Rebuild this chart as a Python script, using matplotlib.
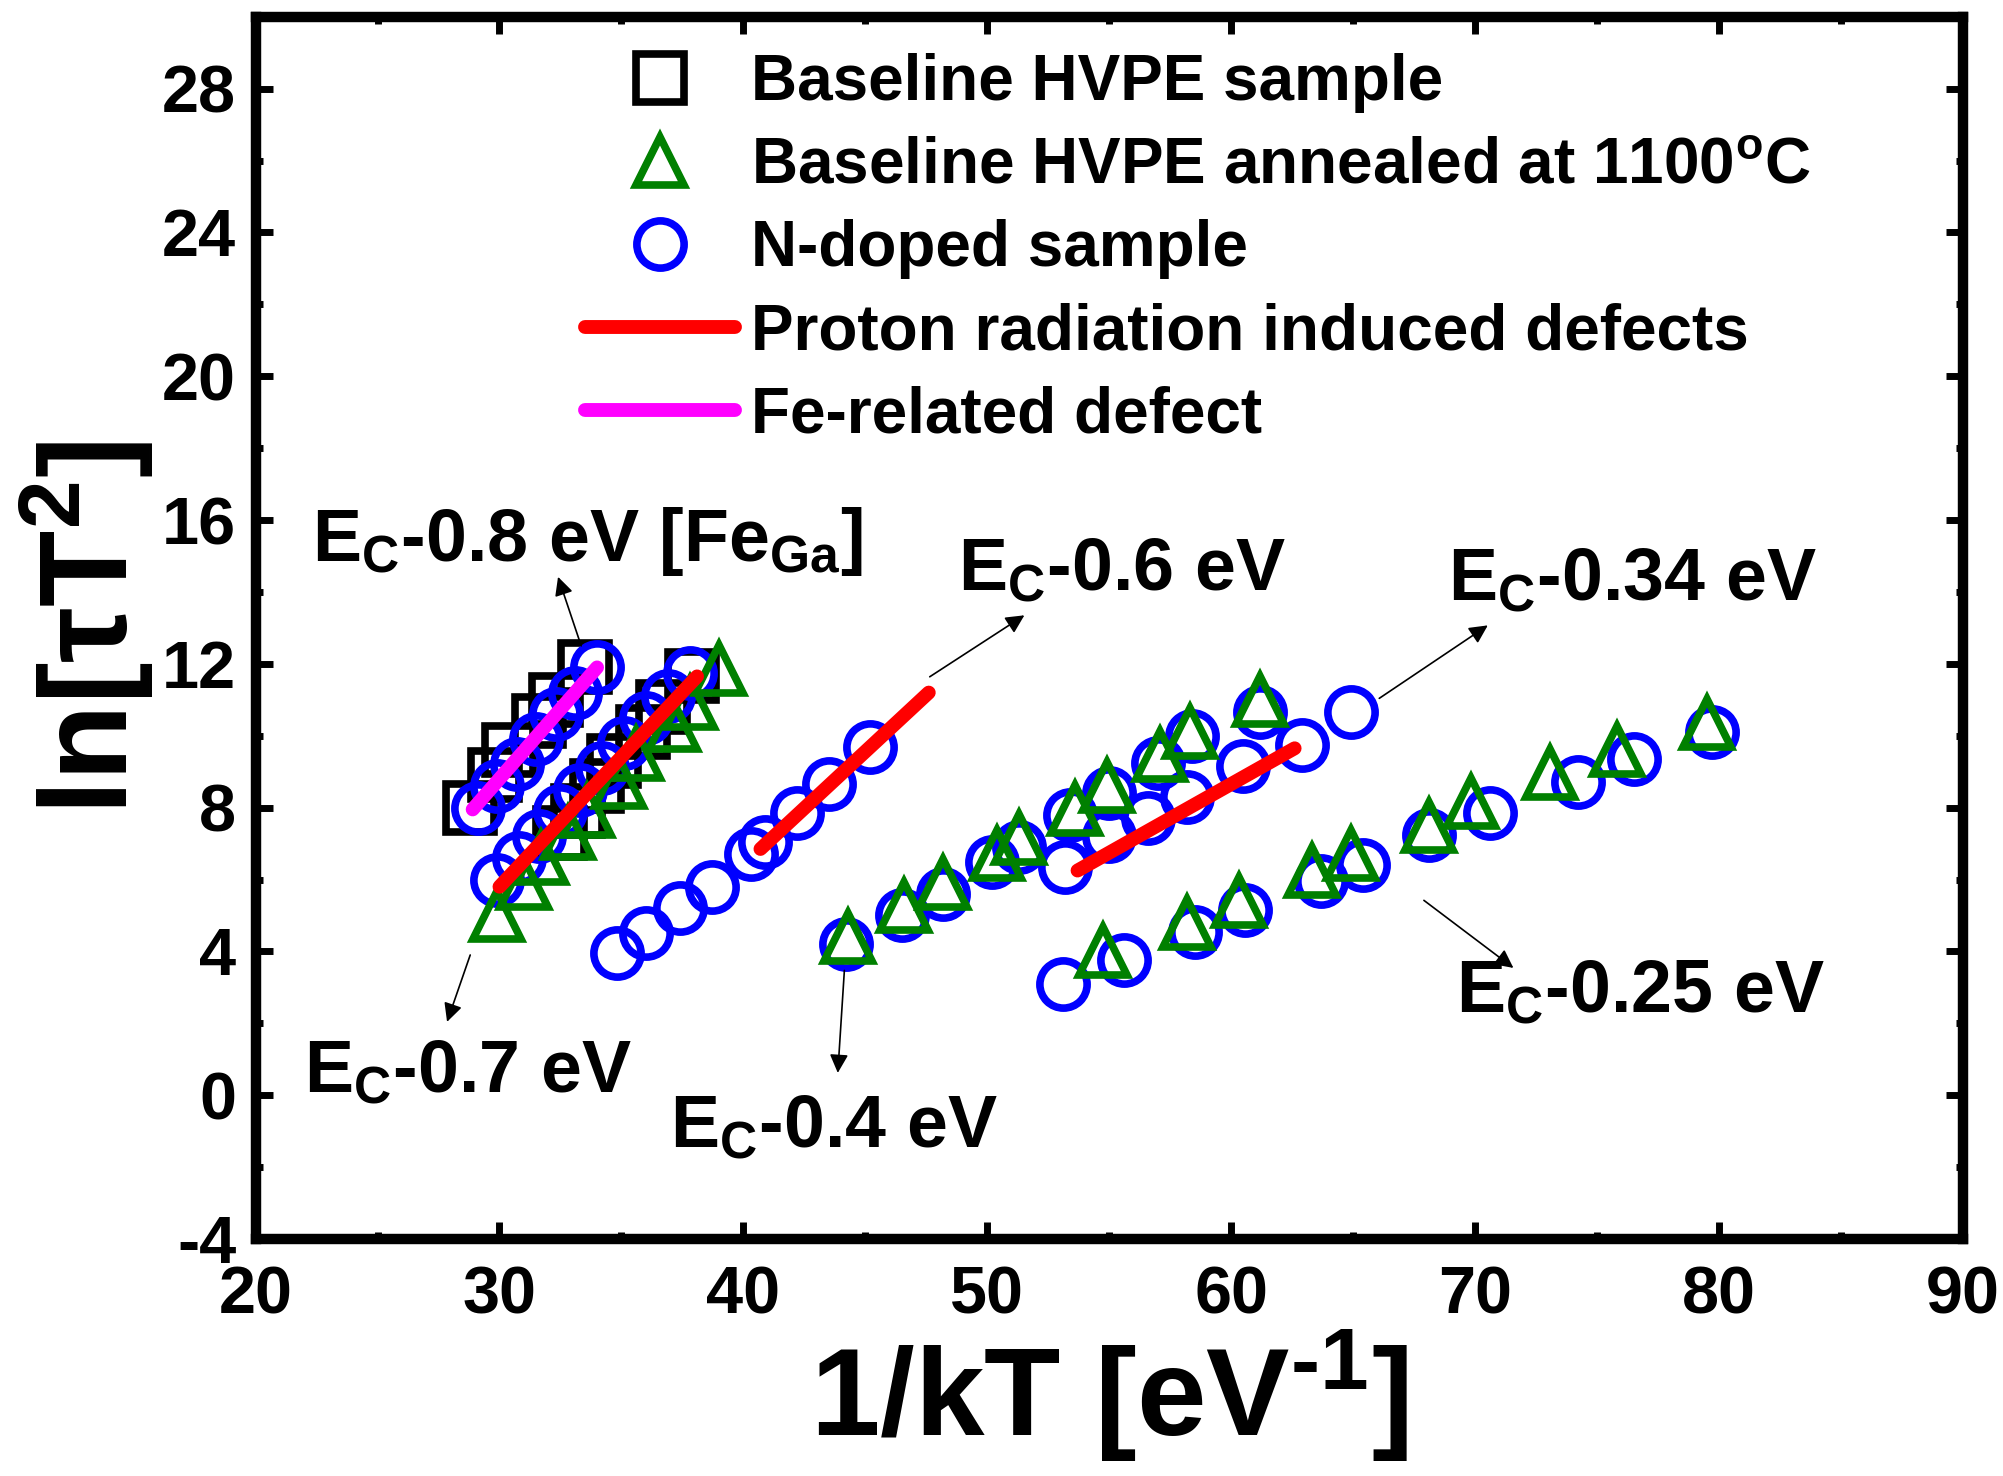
import matplotlib
matplotlib.use('Agg')
import matplotlib.pyplot as plt
import numpy as np

plt.rcParams['font.family'] = ['Liberation Sans', 'DejaVu Sans']
plt.rcParams['font.weight'] = 'bold'
plt.rcParams['axes.unicode_minus'] = False
plt.rcParams['mathtext.fontset'] = 'custom'
plt.rcParams['mathtext.rm'] = 'Liberation Sans:bold'
plt.rcParams['mathtext.it'] = 'Liberation Sans:bold'
plt.rcParams['mathtext.bf'] = 'Liberation Sans:bold'

# Baseline HVPE sample (squares)
sq_x1 = [28.8, 29.8, 30.4, 31.6, 32.3, 33.5]
sq_y1 = [8.0, 8.9, 9.6, 10.4, 11.0, 11.9]
sq_x2 = [32.5, 33.2, 34.0, 34.7, 35.9, 36.7, 37.9]
sq_y2 = [7.3, 7.9, 8.6, 9.3, 10.1, 10.8, 11.65]

# Baseline HVPE annealed at 1100 C (triangles)
tri_x2 = [29.9, 31.0, 31.7, 32.8, 33.6, 34.9, 35.6, 37.1, 37.8, 39.0]
tri_y2 = [5.0, 5.9, 6.6, 7.3, 7.9, 8.7, 9.5, 10.3, 10.9, 11.85]
tri_x4 = [44.3, 46.6, 48.2, 50.4, 51.3, 53.6, 54.9, 57.1, 58.3, 61.2]
tri_y4 = [4.4, 5.25, 5.9, 6.7, 7.15, 7.95, 8.6, 9.45, 10.1, 11.0]
tri_x5 = [54.75, 58.2, 60.3, 63.3, 64.9, 68.1, 69.85, 73.05, 75.8, 79.5]
tri_y5 = [4.0, 4.8, 5.4, 6.25, 6.7, 7.5, 8.15, 8.95, 9.6, 10.35]

# N-doped sample (circles)
cir_x1 = [29.1, 29.9, 30.7, 31.5, 32.3, 33.1, 34.0]
cir_y1 = [8.0, 8.6, 9.2, 9.9, 10.6, 11.2, 11.9]
cir_x2 = [29.9, 30.8, 31.6, 32.5, 33.3, 34.2, 35.1, 36.0, 36.9, 37.8]
cir_y2 = [6.0, 6.6, 7.2, 7.9, 8.5, 9.1, 9.8, 10.5, 11.1, 11.75]
cir_x3 = [34.8, 36.0, 37.4, 38.7, 40.3, 40.9, 42.2, 43.5, 45.2]
cir_y3 = [3.95, 4.5, 5.2, 5.8, 6.7, 7.05, 7.85, 8.65, 9.7]
cir_x4 = [44.2, 46.5, 48.2, 50.2, 51.3, 53.4, 55.0, 57.0, 58.4, 61.2]
cir_y4 = [4.2, 5.0, 5.6, 6.5, 6.9, 7.8, 8.4, 9.25, 10.0, 10.65]
cir_x4b = [53.2, 55.0, 56.6, 58.2, 60.5, 62.9, 64.9]
cir_y4b = [6.35, 7.2, 7.7, 8.3, 9.15, 9.75, 10.65]
cir_x5 = [53.1, 55.6, 58.5, 60.55, 63.7, 65.4, 68.1, 70.6, 74.2, 76.5, 79.7]
cir_y5 = [3.1, 3.75, 4.55, 5.15, 5.95, 6.4, 7.25, 7.85, 8.7, 9.35, 10.1]

# Arrhenius fits
proton_x = [[30.0, 38.1], [40.7, 47.6], [53.7, 62.6]]
proton_y = [[5.8, 11.65], [6.85, 11.2], [6.25, 9.65]]
fe_x = [28.9, 34.0]
fe_y = [7.95, 11.9]

# level annotations: text, text pos, arrow tail, arrow head
labels = [r'E$_{\rm C}$-0.8 eV [Fe$_{\rm Ga}$]', r'E$_{\rm C}$-0.6 eV',
          r'E$_{\rm C}$-0.34 eV', r'E$_{\rm C}$-0.25 eV',
          r'E$_{\rm C}$-0.4 eV', r'E$_{\rm C}$-0.7 eV']
label_pos = [(22.3, 14.85), (48.8, 14.06), (68.9, 13.78),
             (69.2, 2.33), (37.0, -1.44), (22.0, 0.09)]
arrow_tail = [(33.35, 12.5), (47.64, 11.64), (66.07, 11.04),
              (67.9, 5.42), (44.14, 3.47), (28.8, 3.9)]
arrow_head = [(32.4, 14.42), (51.52, 13.35), (70.52, 13.07),
              (71.57, 3.54), (43.87, 0.62), (27.85, 2.04)]

fig = plt.figure(figsize=(20.03, 14.76), dpi=100)
ax = fig.add_axes([0.1276, 0.1606, 0.8524, 0.828])

ms = 34
mew = 5.5
h_sq, = ax.plot(sq_x1 + sq_x2, sq_y1 + sq_y2, 's', ms=ms, mfc='none',
                mec='black', mew=mew, ls='none', zorder=2)
h_ci, = ax.plot(cir_x1 + cir_x2 + cir_x3 + cir_x4 + cir_x4b + cir_x5,
                cir_y1 + cir_y2 + cir_y3 + cir_y4 + cir_y4b + cir_y5,
                'o', ms=ms, mfc='none', mec='#0000ff', mew=mew, ls='none', zorder=3)
h_tr, = ax.plot(tri_x2 + tri_x4 + tri_x5, tri_y2 + tri_y4 + tri_y5, '^',
                ms=ms, mfc='none', mec='#008000', mew=mew, ls='none', zorder=4)
for i, (xs, ys) in enumerate(zip(proton_x, proton_y)):
    h = ax.plot(xs, ys, color='#ff0000', lw=10, solid_capstyle='round', zorder=5)[0]
    if i == 0:
        h_pr = h
h_fe, = ax.plot(fe_x, fe_y, color='#ff00ff', lw=10, solid_capstyle='round', zorder=5)

for txt, pos, tail, head in zip(labels, label_pos, arrow_tail, arrow_head):
    ax.text(pos[0], pos[1], txt, fontsize=53, fontweight='bold',
            ha='left', va='baseline', zorder=6)
    ax.annotate('', xy=head, xytext=tail,
                arrowprops=dict(arrowstyle='-|>', color='black', lw=1.2,
                                mutation_scale=28, shrinkA=0, shrinkB=0),
                zorder=6)

leg = ax.legend([h_sq, h_tr, h_ci, h_pr, h_fe],
                ['Baseline HVPE sample',
                 r'Baseline HVPE annealed at 1100$^{\rm o}$C',
                 'N-doped sample', 'Proton radiation induced defects',
                 'Fe-related defect'],
                loc='upper left', bbox_to_anchor=(0.193, 0.970), frameon=False,
                fontsize=46, handlelength=2.35, handletextpad=0.25,
                labelspacing=0.36, borderpad=0, borderaxespad=0,
                markerscale=1.0)
for t in leg.get_texts():
    t.set_fontweight('bold')

ax.set_xlim(20, 90)
ax.set_ylim(-4, 30)
ax.set_xticks(np.arange(20, 91, 10))
ax.set_yticks(np.arange(-4, 29, 4))
ax.set_xticks(np.arange(25, 90, 10), minor=True)
ax.set_yticks(np.arange(-2, 30, 4), minor=True)
ax.tick_params(which='both', direction='in', top=True, right=True,
               labelsize=48, pad=14)
ax.tick_params(axis='x', which='both', pad=19)
ax.tick_params(which='major', length=12, width=5)
ax.tick_params(which='minor', length=5, width=5)
for lab in ax.get_xticklabels() + ax.get_yticklabels():
    lab.set_fontweight('bold')
for sp in ax.spines.values():
    sp.set_linewidth(7.5)

ax.set_xlabel('1/kT [eV$^{\\rm \u2010 1}$]', fontsize=90, fontweight='bold', labelpad=0)
ax.set_ylabel(r'ln[$\tau$T$^{\rm 2}$]', fontsize=90, fontweight='bold', labelpad=4)

fig.savefig('out.png', dpi=100)
